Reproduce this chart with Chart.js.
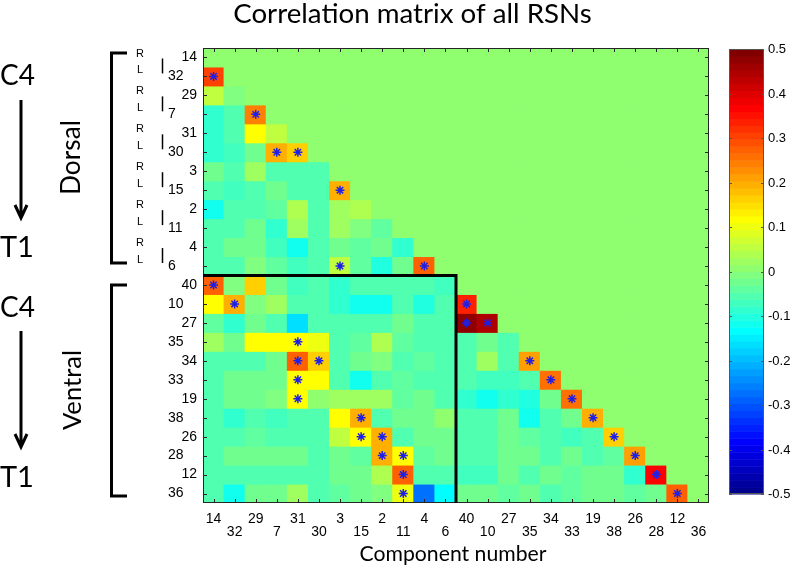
<!DOCTYPE html>
<html lang="en">
<head>
<meta charset="UTF-8">
<title>Correlation matrix of all RSNs</title>
<script src="https://cdn.jsdelivr.net/npm/chart.js"></script>
<style>
  body { margin: 0; background: #fff; }
  #wrap { width: 793px; height: 569px; position: relative; }
</style>
</head>
<body>
<div id="wrap"><canvas id="myChart"></canvas></div>
<script>
// component order, rows top -> bottom and columns left -> right
const components = ['14', '32', '29', '7', '31', '30', '3', '15', '2', '11', '4', '6',
                    '40', '10', '27', '35', '34', '33', '19', '38', '26', '28', '12', '36'];
const dorsalCount = 12;

// lower triangle of the correlation matrix, one array per row (columns in the same order)
const r14 = [];
const r32 = [0.31];
const r29 = [0.05, -0.01];
const r7  = [-0.08, -0.05, 0.24];
const r31 = [-0.08, -0.05, 0.12, 0.05];
const r30 = [-0.08, -0.07, -0.03, 0.2, 0.16];
const r3  = [-0.02, -0.05, 0.03, -0.05, -0.05, -0.05];
const r15 = [-0.06, -0.07, -0.05, -0.02, -0.05, -0.05, 0.19];
const r2  = [-0.12, -0.06, -0.05, -0.04, 0.04, -0.06, 0.02, 0.04];
const r11 = [-0.06, -0.05, -0.02, -0.08, 0.02, -0.05, 0.03, -0.01, -0.04];
const r4  = [-0.06, -0.02, -0.03, -0.07, -0.11, -0.05, -0.03, -0.04, -0.02, -0.08];
const r6  = [-0.05, -0.05, -0.01, -0.04, -0.07, -0.06, 0.06, -0.04, -0.1, -0.02, 0.28];
const r40 = [0.27, -0.01, 0.17, -0.02, -0.07, -0.06, -0.09, -0.05, -0.05, -0.06, -0.05, -0.07];
const r10 = [0.12, 0.2, -0.01, 0.03, -0.06, -0.06, -0.08, -0.11, -0.11, -0.05, -0.1, -0.06, 0.34];
const r27 = [-0.04, -0.09, -0.02, -0.05, -0.17, -0.06, -0.06, -0.06, -0.05, -0.02, -0.05, -0.05, 0.48, 0.45];
const r35 = [0.03, -0.02, 0.12, 0.12, 0.12, 0.1, -0.05, -0.04, 0.04, -0.04, -0.05, -0.05, -0.06, -0.02, -0.06];
const r34 = [-0.06, -0.05, -0.05, -0.02, 0.27, 0.17, -0.05, -0.03, -0.01, -0.05, -0.04, -0.05, -0.05, 0.02, -0.05, 0.21];
const r33 = [-0.06, -0.03, -0.02, -0.02, 0.12, 0.12, -0.05, -0.11, -0.05, -0.04, -0.05, -0.06, -0.06, -0.07, -0.07, -0.05, 0.25];
const r19 = [-0.06, -0.03, -0.02, -0.01, 0.12, 0.0, 0.03, 0.03, 0.03, -0.04, -0.02, -0.05, -0.09, -0.11, -0.08, -0.1, -0.03, 0.25];
const r38 = [-0.05, -0.09, -0.05, -0.07, -0.05, -0.05, 0.12, 0.2, -0.05, -0.03, -0.02, 0.01, -0.06, -0.05, -0.03, -0.12, -0.05, -0.03, 0.2];
const r26 = [-0.05, -0.05, -0.04, -0.05, -0.05, -0.05, 0.05, 0.12, 0.2, -0.05, -0.03, -0.02, -0.05, -0.05, -0.02, -0.04, -0.05, -0.07, -0.05, 0.16];
const r28 = [-0.05, -0.02, -0.02, -0.02, -0.02, -0.05, -0.02, -0.04, 0.2, 0.12, -0.04, -0.02, -0.05, -0.05, -0.03, -0.02, -0.05, -0.02, -0.05, -0.04, 0.21];
const r12 = [-0.06, -0.06, -0.05, -0.05, -0.05, -0.06, -0.02, -0.02, 0.04, 0.27, -0.05, -0.05, -0.07, -0.07, -0.03, -0.06, -0.03, -0.04, -0.03, -0.03, -0.08, 0.37];
const r36 = [-0.05, -0.12, -0.02, -0.02, 0.03, -0.05, -0.04, -0.03, -0.01, 0.1, -0.28, -0.13, -0.02, -0.02, -0.04, -0.03, -0.05, -0.04, -0.02, -0.02, -0.04, -0.02, 0.28];

const rows = [r14, r32, r29, r7, r31, r30, r3, r15, r2, r11, r4, r6,
              r40, r10, r27, r35, r34, r33, r19, r38, r26, r28, r12, r36];

// significant correlations, [row component, column component]
const sigPairs = [
  ['32', '14'], ['7', '29'], ['30', '7'], ['30', '31'], ['15', '3'], ['6', '3'], ['6', '4'],
  ['40', '14'], ['10', '32'], ['10', '40'], ['27', '40'], ['27', '10'],
  ['35', '31'], ['34', '31'], ['34', '30'], ['34', '35'], ['33', '31'], ['33', '34'],
  ['19', '31'], ['19', '33'], ['38', '15'], ['38', '19'], ['26', '15'], ['26', '2'], ['26', '38'],
  ['28', '2'], ['28', '11'], ['28', '26'], ['12', '11'], ['12', '28'], ['36', '11'], ['36', '12']
];

const colorbarTicks = [0.5, 0.4, 0.3, 0.2, 0.1, 0, -0.1, -0.2, -0.3, -0.4, -0.5];
const cmin = -0.5, cmax = 0.5;

// matlab jet(64)
function jetIndex(v) {
    let i = Math.floor((v - cmin) / (cmax - cmin) * 64) + 1;
    return Math.max(1, Math.min(64, i));
}
function jetColor(i) {
    const c = (a, b) => Math.round(255 * Math.max(0, Math.min(1, Math.min(a, b))));
    const r = c((i - 24) / 16, (72 - i) / 16);
    const g = c((i - 8) / 16, (56 - i) / 16);
    const b = c((i + 8) / 16, (40 - i) / 16);
    return `rgb(${r},${g},${b})`;
}
function jet(v) { return jetColor(jetIndex(v)); }

function fitFont(ctx, text, family, width) {
    ctx.font = '100px ' + family;
    const size = 100 * width / ctx.measureText(text).width;
    ctx.font = size.toFixed(1) + 'px ' + family;
}

const sans = '"Liberation Sans", Arial, sans-serif';
const humanist = 'Lato, "Open Sans", sans-serif';

const decor = {
    id: 'decor',
    afterDraw(chart) {
        const ctx = chart.ctx;
        const xs = chart.scales.x, ys = chart.scales.y;
        const a = chart.chartArea;
        const cw = (a.right - a.left) / components.length;
        ctx.save();

        // inward ticks and box
        ctx.strokeStyle = '#262626';
        ctx.lineWidth = 1;
        ctx.beginPath();
        components.forEach((c, k) => {
            const x = Math.round(xs.getPixelForValue(k)) + 0.5;
            const y = Math.round(ys.getPixelForValue(k + 0.5)) + 0.5;
            ctx.moveTo(x, a.top); ctx.lineTo(x, a.top + 4);
            ctx.moveTo(x, a.bottom); ctx.lineTo(x, a.bottom - 4);
            ctx.moveTo(a.left, y); ctx.lineTo(a.left + 4, y);
            ctx.moveTo(a.right, y); ctx.lineTo(a.right - 4, y);
        });
        ctx.stroke();
        ctx.strokeRect(a.left + 0.5, a.top + 0.5, a.right - a.left - 1, a.bottom - a.top - 1);

        // dorsal / ventral block border
        const yb = ys.getPixelForValue(dorsalCount);
        const xb = xs.getPixelForValue(dorsalCount - 1) + cw / 2;
        ctx.strokeStyle = '#000';
        ctx.lineWidth = 3;
        ctx.beginPath();
        ctx.moveTo(a.left, yb);
        ctx.lineTo(xb, yb);
        ctx.lineTo(xb, a.bottom);
        ctx.stroke();

        // row labels
        ctx.fillStyle = '#000';
        ctx.font = '14px ' + sans;
        ctx.textBaseline = 'middle';
        components.forEach((c, k) => {
            const y = ys.getPixelForValue(k + 0.5);
            if (k % 2 === 0) { ctx.textAlign = 'right'; ctx.fillText(c, 197, y); }
            else { ctx.textAlign = 'left'; ctx.fillText(c, 168, y); }
        });

        // column labels, staggered
        ctx.textAlign = 'center';
        ctx.textBaseline = 'alphabetic';
        components.forEach((c, k) => {
            const x = xs.getPixelForValue(k);
            ctx.fillText(c, x, k % 2 === 0 ? 523 : 536);
        });

        // R / L marks for the dorsal pairs
        ctx.font = '11px ' + sans;
        ctx.textAlign = 'left';
        ctx.textBaseline = 'middle';
        ctx.lineWidth = 1.5;
        for (let k = 0; k < dorsalCount; k += 2) {
            const y1 = ys.getPixelForValue(k + 0.5), y2 = ys.getPixelForValue(k + 1.5);
            ctx.fillText('R', 136, y1 - 4);
            ctx.fillText('L', 137, y2 - 6);
            ctx.beginPath();
            ctx.moveTo(162.5, y1 + 1);
            ctx.lineTo(162.5, y2 - 3);
            ctx.stroke();
        }

        // brackets
        ctx.lineWidth = 3;
        const bracket = (y1, y2) => {
            ctx.beginPath();
            ctx.moveTo(127, y1); ctx.lineTo(111.5, y1); ctx.lineTo(111.5, y2); ctx.lineTo(127, y2);
            ctx.stroke();
        };
        bracket(53, 263);
        bracket(285, 496);

        // C4 -> T1 arrows
        const arrow = (y1, y2) => {
            ctx.beginPath();
            ctx.moveTo(21, y1); ctx.lineTo(21, y2 - 2);
            ctx.moveTo(15, y2 - 13); ctx.lineTo(21, y2); ctx.lineTo(27, y2 - 13);
            ctx.stroke();
        };
        arrow(100, 218);
        arrow(331, 447);
        ctx.textAlign = 'left';
        ctx.textBaseline = 'alphabetic';
        fitFont(ctx, 'C4', humanist, 35);
        ctx.fillText('C4', 0, 85);
        ctx.fillText('C4', 0, 317);
        fitFont(ctx, 'T1', humanist, 34);
        ctx.fillText('T1', 0, 257);
        ctx.fillText('T1', 0, 487);

        // rotated group names
        const vtext = (t, x, y, w) => {
            ctx.save();
            ctx.translate(x, y);
            ctx.rotate(-Math.PI / 2);
            fitFont(ctx, t, humanist, w);
            ctx.textAlign = 'center';
            ctx.fillText(t, 0, 0);
            ctx.restore();
        };
        vtext('Dorsal', 80, 157.5, 75);
        vtext('Ventral', 81, 390, 80);

        // title and axis title
        ctx.textAlign = 'center';
        fitFont(ctx, 'Correlation matrix of all RSNs', humanist, 359);
        ctx.fillText('Correlation matrix of all RSNs', 412.5, 23);
        fitFont(ctx, 'Component number', humanist, 187);
        ctx.fillText('Component number', 453, 561);

        // colorbar
        const cb = { left: 729, right: 764, top: 49, bottom: 494 };
        const band = (cb.bottom - cb.top) / 64;
        for (let i = 1; i <= 64; i++) {
            ctx.fillStyle = jetColor(i);
            ctx.fillRect(cb.left, cb.bottom - i * band, cb.right - cb.left, band + 0.5);
        }
        ctx.strokeStyle = '#555';
        ctx.lineWidth = 1;
        ctx.strokeRect(cb.left + 0.5, cb.top + 0.5, cb.right - cb.left - 1, cb.bottom - cb.top - 1);
        ctx.fillStyle = '#000';
        ctx.font = '13px ' + sans;
        ctx.textAlign = 'left';
        ctx.textBaseline = 'middle';
        ctx.beginPath();
        colorbarTicks.forEach(v => {
            const y = Math.round(cb.bottom - (v - cmin) / (cmax - cmin) * (cb.bottom - cb.top)) + 0.5;
            ctx.moveTo(cb.left, y); ctx.lineTo(cb.left + 3, y);
            ctx.moveTo(cb.right, y); ctx.lineTo(cb.right - 3, y);
            ctx.fillText(String(v), 768, y);
        });
        ctx.stroke();
        ctx.restore();
    }
};

const cellSets = rows.map((vals, i) => ({
    type: 'bar',
    label: components[i],
    data: components.map(() => [i, i + 1]),
    backgroundColor: components.map((c, j) => jet(j < i ? vals[j] : 0)),
    borderWidth: 0,
    inflateAmount: 0.5,
    grouped: false,
    barPercentage: 1,
    categoryPercentage: 1,
    order: 2
}));

const starSet = {
    type: 'line',
    label: 'significant',
    data: sigPairs.map(p => ({ x: p[1], y: components.indexOf(p[0]) + 0.5 })),
    showLine: false,
    pointStyle: 'star',
    pointRadius: 4.5,
    pointBorderColor: '#1f1fe6',
    pointBackgroundColor: '#1f1fe6',
    pointBorderWidth: 1.5,
    order: 1
};

new Chart(document.getElementById('myChart'), {
    type: 'bar',
    data: { labels: components, datasets: [...cellSets, starSet] },
    options: {
        responsive: true,
        maintainAspectRatio: false,
        animation: false,
        events: [],
        layout: { padding: { left: 203, top: 48, right: 84, bottom: 66 } },
        scales: {
            x: { type: 'category', display: false, offset: true },
            y: { type: 'linear', display: false, min: 0, max: 24, reverse: true }
        },
        plugins: { legend: { display: false }, tooltip: { enabled: false }, title: { display: false } }
    },
    plugins: [decor]
});
</script>
</body>
</html>
